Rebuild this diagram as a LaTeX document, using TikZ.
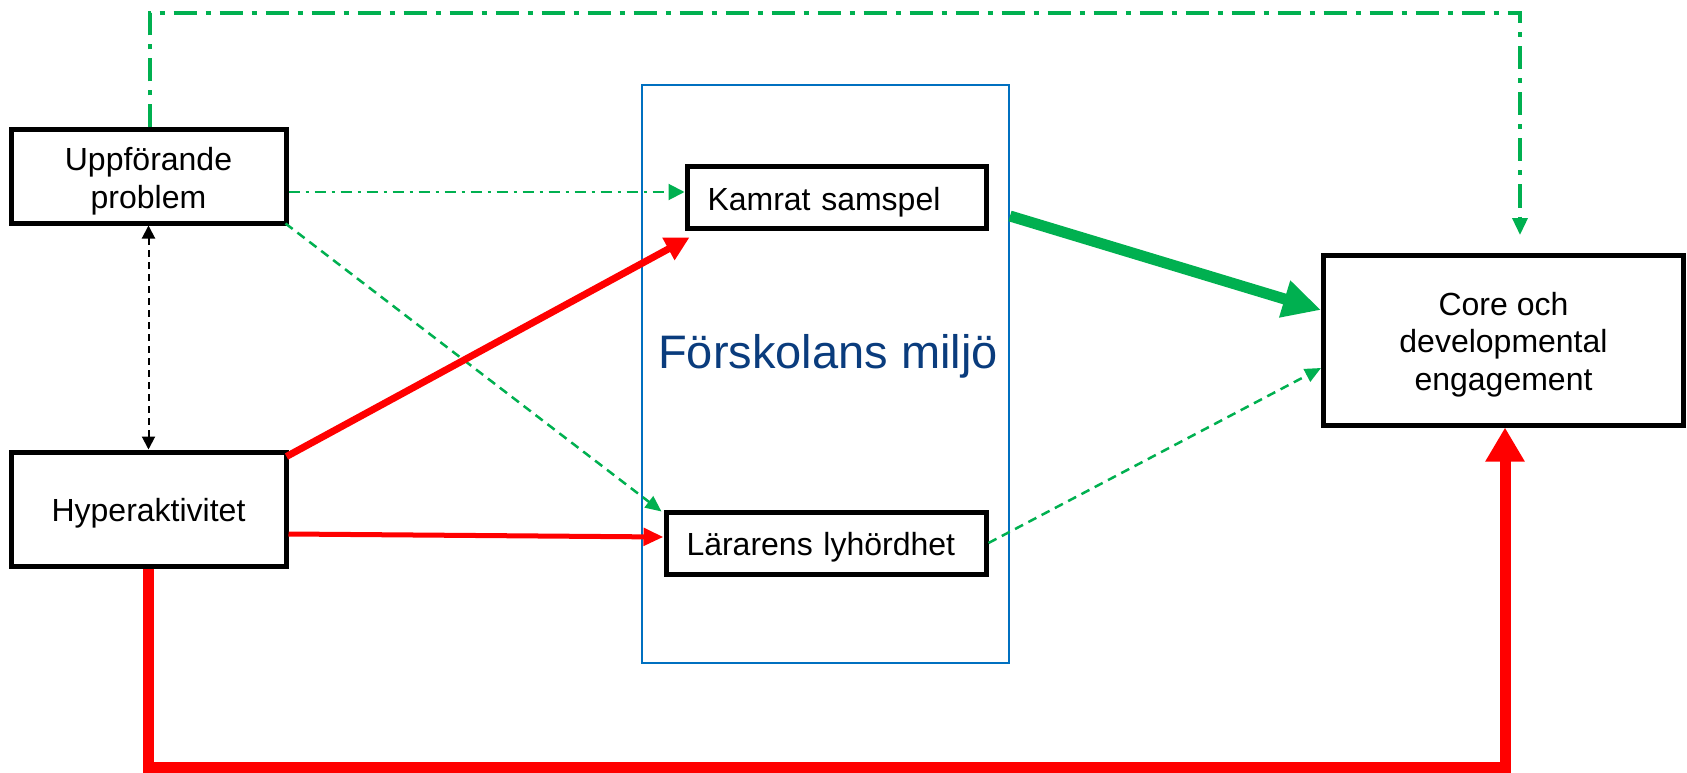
\documentclass[tikz,border=0pt]{standalone}
\usepackage{fontspec}
\setmainfont{Liberation Sans}
\usetikzlibrary{arrows.meta,calc}
\definecolor{grn}{HTML}{00B050}
\definecolor{rd}{HTML}{FF0000}
\definecolor{envblue}{HTML}{0070C0}
\definecolor{envtext}{HTML}{0A3C7D}
% a zero-width strut that lowers the box texts a little
\newcommand{\boxlift}{\rule{0pt}{32.5pt}}
\begin{document}
\begin{tikzpicture}[x=1pt,y=-1pt,
  varbox/.style={draw=black,line width=5pt,inner sep=0pt,align=center,
    font=\fontsize{32}{37.5}\selectfont},
  envrect/.style={draw=envblue,line width=2pt,inner sep=0pt,
    minimum width=367pt,minimum height=578pt},
  envlabel/.style={text=envtext,inner sep=0pt,font=\fontsize{47}{56}\selectfont},
  linkdashdot/.style={draw=grn,line width=3.5pt,
    dash pattern=on 23pt off 9pt on 5pt off 9pt,
    -{Triangle[length=17pt,width=15pt]}},
  thindashdot/.style={draw=grn,line width=2pt,
    dash pattern=on 11pt off 6pt on 3pt off 6pt,
    -{Triangle[length=16pt,width=16pt]}},
  thindashed/.style={draw=grn,line width=2.5pt,
    dash pattern=on 9pt off 6pt,
    -{Triangle[length=16pt,width=14pt]}},
  blackdashed/.style={draw=black,line width=2pt,
    dash pattern=on 7pt off 5pt,
    {Triangle[length=13pt,width=13pt]}-{Triangle[length=13pt,width=13pt]}},
  redmid/.style={draw=rd,line width=5pt,-{Triangle[length=20pt,width=17pt]}},
  reddiag/.style={draw=rd,line width=7pt,-{Triangle[length=24pt,width=24pt]}},
  redthick/.style={draw=rd,line width=11pt,-{Triangle[length=34pt,width=37pt]}},
  grnthick/.style={draw=grn,line width=11pt,-{Triangle[length=38pt,width=36pt]}}
]
\fill[white] (0,0) rectangle (1687,773);
\useasboundingbox (0,0) rectangle (1687,773);

% the setting box and its caption
\node[envrect] (env) at (825,374) {};
\node[envlabel,anchor=base] (envlab) at (828,368) {Förskolans miljö};

% variables
\node[varbox,minimum width=275pt,minimum height=93pt] (upp) at (148.5,176.5) {\boxlift Uppförande\\problem};
\node[varbox,minimum width=275pt,minimum height=114pt] (hyp) at (148.5,509) {\boxlift Hyperaktivitet};
\node[varbox,text width=258pt,align=left,inner xsep=20.5pt,minimum height=61pt] (kam) at (836.5,197.5) {\boxlift Kamrat samspel};
\node[varbox,text width=279pt,align=left,inner xsep=20.5pt,minimum height=62pt] (lar) at (826,543) {\boxlift Lärarens lyhördhet};
\node[varbox,minimum width=360pt,minimum height=170pt] (core) at (1503.5,340) {\boxlift Core och\\developmental\\engagement};

% rails for the outer connectors
\coordinate (toprail) at (0,13);
\coordinate (botrail) at (0,767);

% green connectors
\draw[linkdashdot] ([shift={(1.5,0)}]upp.north) -- ([shift={(1.5,0)}]upp.north |- toprail) -| ([shift={(16.5,-17.5)}]core.north);
\draw[thindashdot] ([shift={(0,15.5)}]upp.east) -- ([shift={(0,-5.5)}]kam.west);
\draw[thindashed] ([shift={(-3,-2)}]upp.south east) -- ([shift={(-2,2)}]lar.north west);
\draw[grnthick] ([shift={(21.5,18.5)}]kam.east) -- ([shift={(0,-30)}]core.west);
\draw[thindashed] (lar.east) -- ([shift={(0,28)}]core.west);

% black correlation
\draw[blackdashed] (upp.south) -- (hyp.north);

% red connectors
\draw[reddiag] ([shift={(-2,7)}]hyp.north east) -- ([shift={(5,7)}]kam.south west);
\draw[redmid] ([shift={(0,25)}]hyp.east) -- ([shift={(0,-6)}]lar.west);
\draw[redthick] (hyp.south) -- (hyp.south |- botrail) -| ([shift={(1.5,0)}]core.south);
\end{tikzpicture}
\end{document}
